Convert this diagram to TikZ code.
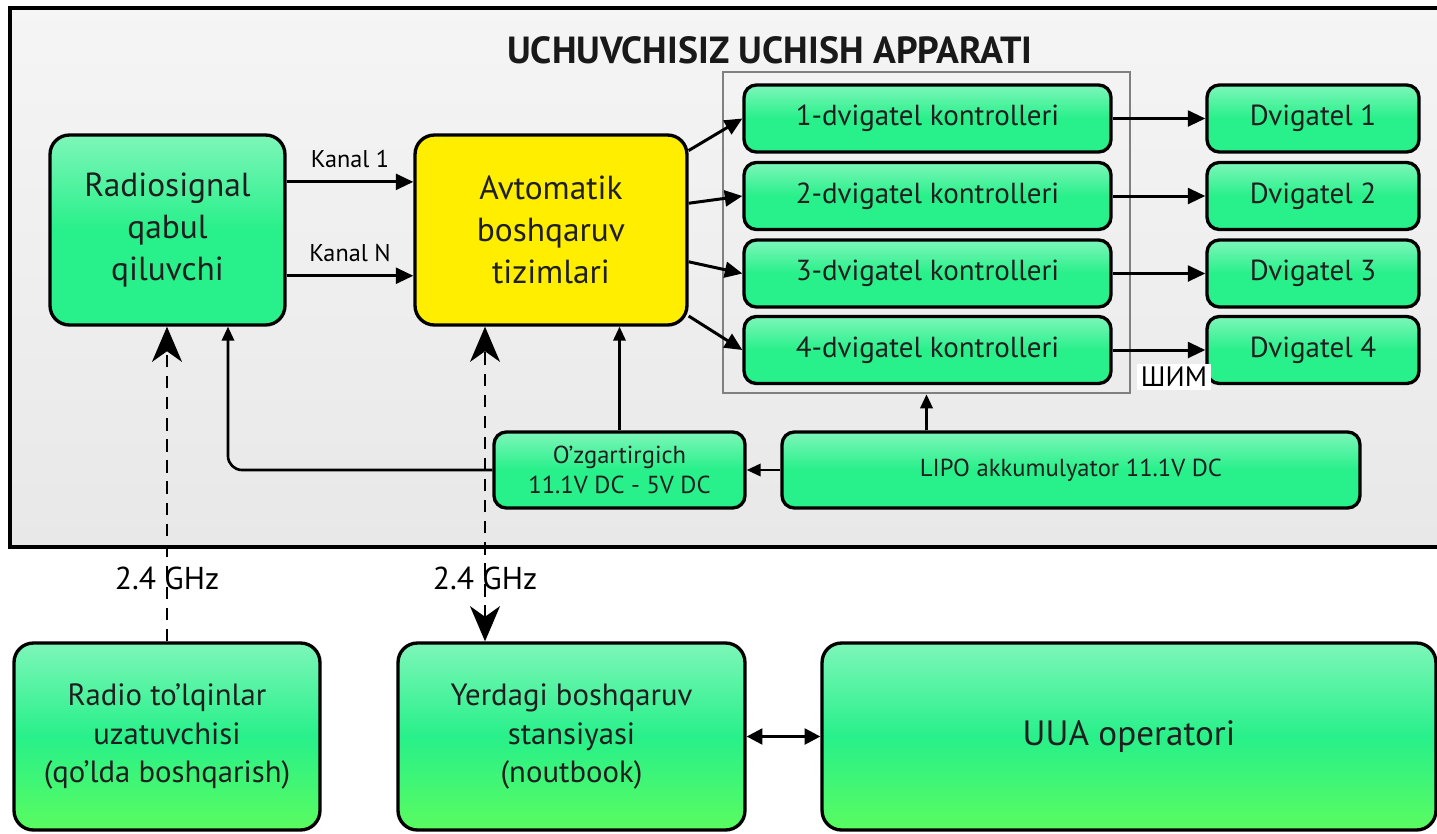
\documentclass[tikz,border=0pt]{standalone}
\usepackage{fontspec}
\setmainfont{PT Sans}
\usepackage{tikz}
\usetikzlibrary{arrows.meta}
\definecolor{mint}{RGB}{40,240,138}
\definecolor{mintlight}{RGB}{125,246,185}
\definecolor{lime}{RGB}{90,252,95}
\definecolor{yel}{RGB}{255,238,0}
\definecolor{panel}{RGB}{232,232,232}
\tikzstyle{box} = [rectangle, rounded corners=7pt, draw=black, line width=1.9pt, align=center, text=black!88, inner sep=2pt]
\tikzstyle{gbox} = [box, top color=mintlight, bottom color=mint, middle color=mint]
\tikzstyle{groundbox} = [box, rounded corners=11pt, top color=mintlight, bottom color=lime, middle color=mint]
\tikzstyle{ybox} = [box, rounded corners=11pt, fill=yel]
\tikzstyle{arrow} = [line width=1.7pt, -{Triangle[length=10pt,width=9pt]}]
\tikzstyle{feed} = [line width=1.5pt, -{Triangle[length=8pt,width=7pt]}]
\tikzstyle{radiolink} = [line width=1.6pt, dash pattern=on 7pt off 5pt, -{Stealth[length=20pt,width=17pt,inset=6pt]}]

\begin{document}
\begin{tikzpicture}[x=0.02cm,y=-0.02cm]
\useasboundingbox (0,0) rectangle (1437,833);
\clip (0,0) rectangle (1437,833);
\fill[white] (0,0) rectangle (1437,833);
\draw[line width=1.9pt, top color=white!96!black, bottom color=panel] (10,8) rectangle (1470,547);
\node (title) [font=\bfseries\fontsize{21.5}{24}\selectfont, text=black!90] at (770,50) {UCHUVCHISIZ UCHISH APPARATI};
\node (cframe) [draw=black!50, line width=1.5pt, minimum width=8.14cm, minimum height=6.42cm] at (926.5,232.5) {};
\node (radio) [ybox, top color=mintlight, bottom color=mint, middle color=mint, minimum width=4.7cm, minimum height=3.8cm, font=\fontsize{19}{24}\selectfont] at (167.5,230) {Radiosignal\\qabul\\qiluvchi};
\node (auto) [ybox, minimum width=5.44cm, minimum height=3.8cm, font=\fontsize{19}{24}\selectfont] at (551,230) {Avtomatik\\boshqaruv\\tizimlari};
\foreach \i/\y in {1/118.5,2/196,3/273.5,4/350}{
  \node (c\i) [gbox, minimum width=7.34cm, minimum height=1.34cm, font=\fontsize{16.5}{19}\selectfont] at (927.5,\y) {\i-dvigatel kontrolleri};
  \node (d\i) [gbox, minimum width=4.24cm, minimum height=1.34cm, font=\fontsize{16.5}{19}\selectfont] at (1313,\y) {Dvigatel \i};
  \draw [arrow] (c\i) -- (d\i);
}
\node (pwm) [fill=white, inner sep=2pt, font=\fontsize{16}{18}\selectfont] at (1174,377) {ШИМ};
\node (conv) [gbox, minimum width=5.02cm, minimum height=1.52cm, font=\fontsize{14}{17.5}\selectfont] at (619.5,470) {O'zgartirgich\\11.1V DC - 5V DC};
\node (lipo) [gbox, minimum width=11.56cm, minimum height=1.52cm, font=\fontsize{14}{17}\selectfont] at (1071,470) {LIPO akkumulyator 11.1V DC};
\node (tx) [groundbox, minimum width=6.12cm, minimum height=3.74cm, font=\fontsize{17.5}{22}\selectfont] at (167,736.5) {Radio to'lqinlar\\uzatuvchisi\\(qo'lda boshqarish)};
\node (gcs) [groundbox, minimum width=6.94cm, minimum height=3.74cm, font=\fontsize{17.5}{22}\selectfont] at (571.5,736.5) {Yerdagi boshqaruv\\stansiyasi\\(noutbook)};
\node (oper) [groundbox, minimum width=12.28cm, minimum height=3.74cm, font=\fontsize{20}{24}\selectfont] at (1129,736.5) {UUA operatori};
\coordinate (rin) at ([xshift=1.21cm]radio.south);
\coordinate (gtop) at ([xshift=-1.73cm]gcs.north);
\draw [arrow] (radio.22.6) -- node (k1) [above=4pt, font=\fontsize{13.8}{16}\selectfont] {Kanal 1} (radio.22.6 -| auto.west);
\draw [arrow] (radio.-21.4) -- node (kn) [above=4pt, font=\fontsize{13.8}{16}\selectfont] {Kanal N} (radio.-21.4 -| auto.west);
\draw [arrow] (auto.30.5) -- (c1.west);
\draw [arrow] (auto.11.2) -- (c2.west);
\draw [arrow] (auto.-13.2) -- (c3.west);
\draw [arrow] (auto.-32) -- (c4.west);
\draw [feed] (lipo.west) -- (conv.east);
\draw [feed] (lipo.north -| cframe.south) -- (cframe.south);
\draw [feed] (conv.north) -- (conv.north |- auto.south);
\draw [feed, rounded corners=8pt] (conv.west) -| (rin);
\draw [radiolink] (tx.north) -- node (f1) [pos=0.2, font=\fontsize{18}{20}\selectfont] {2.4 GHz} (tx.north |- radio.south);
\draw [radiolink, {Stealth[length=20pt,width=17pt,inset=6pt]}-{Stealth[length=20pt,width=17pt,inset=6pt]}] (gtop) -- node (f2) [pos=0.2, font=\fontsize{18}{20}\selectfont] {2.4 GHz} (gtop |- auto.south);
\draw [line width=1.7pt, {Triangle[length=9pt,width=9pt]}-{Triangle[length=9pt,width=9pt]}] (gcs) -- (oper);
\end{tikzpicture}
\end{document}
